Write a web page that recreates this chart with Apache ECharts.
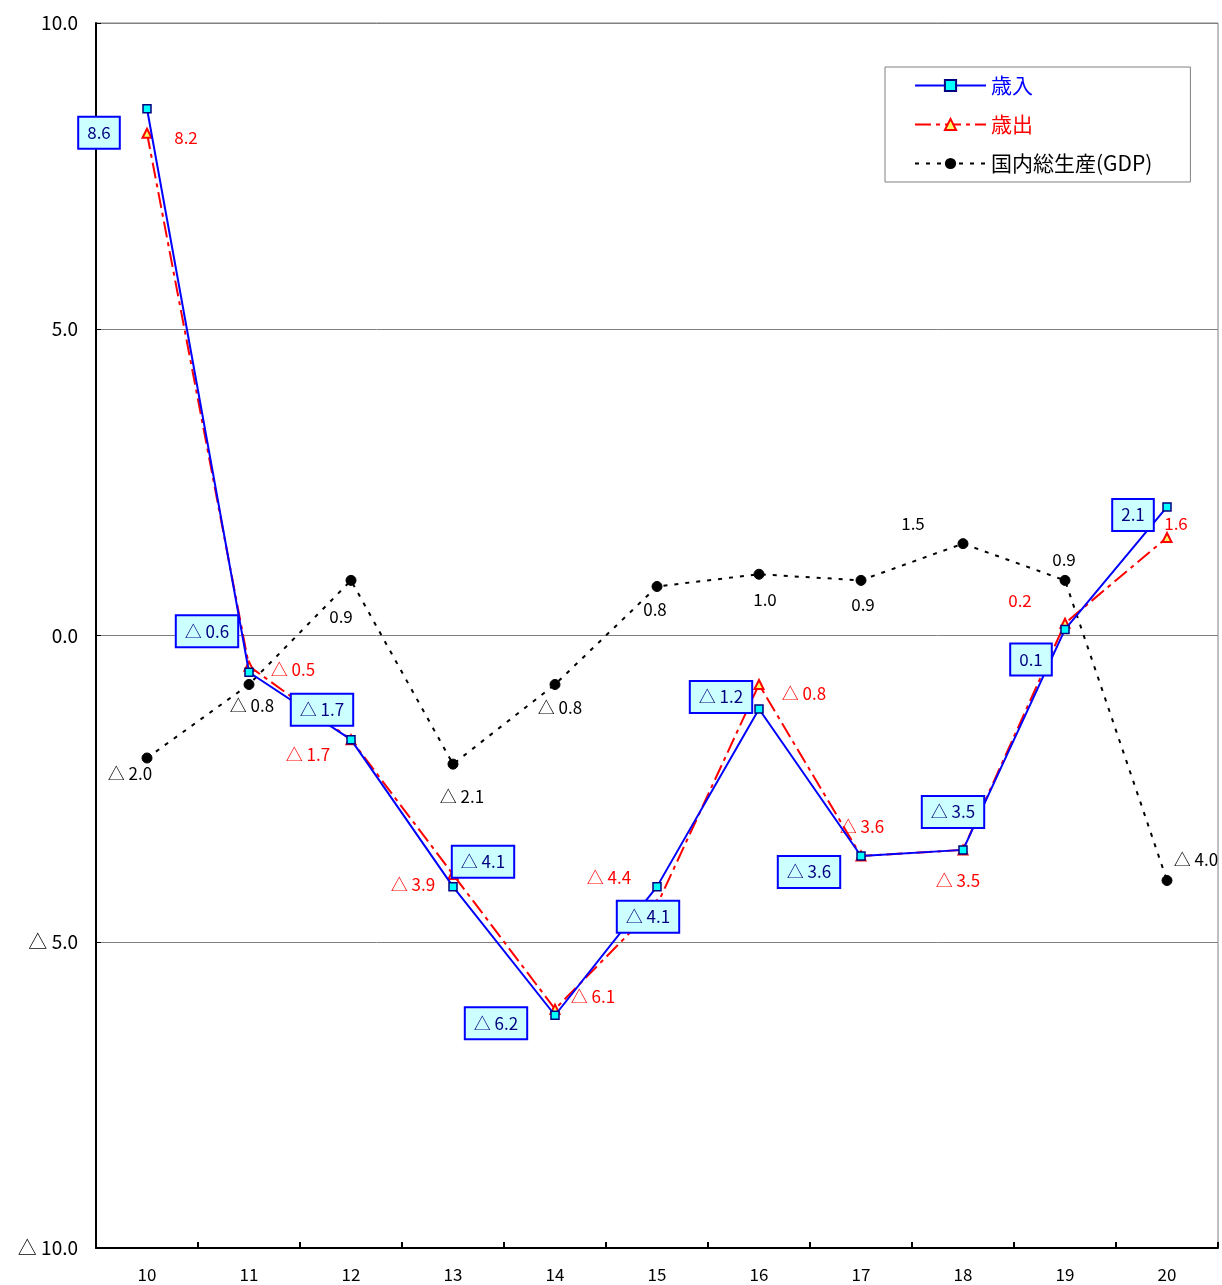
<!DOCTYPE html>
<html><head><meta charset="utf-8">
<script src="https://cdn.jsdelivr.net/npm/echarts@6/dist/echarts.min.js"></script>
<style>html,body{margin:0;padding:0;background:#fff}#c{width:1222px;height:1285px}</style>
</head><body><div id="c"></div>
<script>
const categories = ['10','11','12','13','14','15','16','17','18','19','20'];
const revenue = [8.6, -0.6, -1.7, -4.1, -6.2, -4.1, -1.2, -3.6, -3.5, 0.1, 2.1];
const expenditure = [8.2, -0.5, -1.7, -3.9, -6.1, -4.4, -0.8, -3.6, -3.5, 0.2, 1.6];
const gdp = [-2.0, -0.8, 0.9, -2.1, -0.8, 0.8, 1.0, 0.9, 1.5, 0.9, -4.0];
const seriesNames = ['歳入', '歳出', '国内総生産(GDP)'];

// label offsets (layout only)
const revOff = [[-48,24],[-42,-41],[-29,-30],[30,-25],[-59,8],[-9,30],[-38,-12],[-52,16],[-10,-38],[-34,30],[-34,8]];
const expOff = [[39,4],[44,3],[-43,15],[-40,10],[38,-13],[-48,-27],[45,9],[1,-29],[-5,31],[-45,-23],[9,-14]];
const gdpOff = [[-17,16],[3,21],[-10,36],[9,32],[5,23],[-2,23],[6,25],[2,24],[-50,-20],[-1,-21],[29,-21]];

const FONT = '"Noto Sans CJK JP", "Noto Sans", sans-serif';
function fmt(v){ return v < 0 ? '△ ' + Math.abs(v).toFixed(1) : v.toFixed(1); }
function withLabels(vals, offs){
  return vals.map((v,i)=>({value:v, label:{offset:offs[i]}}));
}

const chart = echarts.init(document.getElementById('c'));
chart.setOption({
  animation:false,
  backgroundColor:'#fff',
  textStyle:{fontFamily:FONT},
  grid:{left:96, right:4, top:23, bottom:37, show:true, borderColor:'#808080', borderWidth:1},
  legend:{
    orient:'vertical', left:885, top:67,
    itemWidth:71, itemHeight:14, itemGap:18,
    padding:[8,38,8,29],
    borderColor:'#808080', borderWidth:1,
    textStyle:{fontFamily:FONT, fontSize:21},
    data:[
      {name:seriesNames[0], textStyle:{color:'#0000FF'}},
      {name:seriesNames[1], textStyle:{color:'#FF0000'}},
      {name:seriesNames[2], textStyle:{color:'#000000'}}
    ]
  },
  xAxis:{
    type:'category', data:categories, boundaryGap:true,
    axisLine:{onZero:false, lineStyle:{color:'#000', width:2}},
    axisTick:{show:true, inside:true, length:6, interval:0, lineStyle:{color:'#000', width:2}},
    axisLabel:{color:'#000', fontSize:17, margin:18, fontFamily:FONT},
    splitLine:{show:false}
  },
  yAxis:{
    type:'value', min:-10, max:10, interval:5,
    axisLine:{show:true, lineStyle:{color:'#000', width:2}},
    axisTick:{show:true, inside:true, length:5, lineStyle:{color:'#000'}},
    axisLabel:{color:'#000', fontSize:19, margin:18, fontFamily:FONT, formatter:fmt},
    splitLine:{show:true, lineStyle:{color:'#808080', width:1}}
  },
  series:[
    {
      name:seriesNames[2], type:'line', data:withLabels(gdp, gdpOff),
      symbol:'circle', symbolSize:10,
      itemStyle:{color:'#000', borderColor:'#000'},
      lineStyle:{color:'#000', width:2, type:[4,7]},
      label:{show:true, position:'inside', color:'#000', fontSize:17, fontFamily:FONT, formatter:p=>fmt(p.value)},
      z:2
    },
    {
      name:seriesNames[1], type:'line', data:withLabels(expenditure, expOff),
      symbol:'triangle', symbolSize:9,
      itemStyle:{color:'#FFFF66', borderColor:'#FF0000', borderWidth:2},
      lineStyle:{color:'#FF0000', width:2, type:[16,5,4,5]},
      label:{show:true, position:'inside', color:'#FF0000', fontSize:17, fontFamily:FONT, formatter:p=>fmt(p.value)},
      z:3
    },
    {
      name:seriesNames[0], type:'line', data:withLabels(revenue, revOff),
      symbol:'rect', symbolSize:8,
      itemStyle:{color:'#00FFFF', borderColor:'#000080', borderWidth:1.5},
      lineStyle:{color:'#0000FF', width:2},
      label:{show:true, position:'inside', color:'#000080', fontSize:17, fontFamily:FONT,
        backgroundColor:'#CCFFFF', borderColor:'#0000FF', borderWidth:2, padding:[7,8,6,8],
        formatter:p=>fmt(p.value)},
      z:4
    }
  ]
});
</script></body></html>
